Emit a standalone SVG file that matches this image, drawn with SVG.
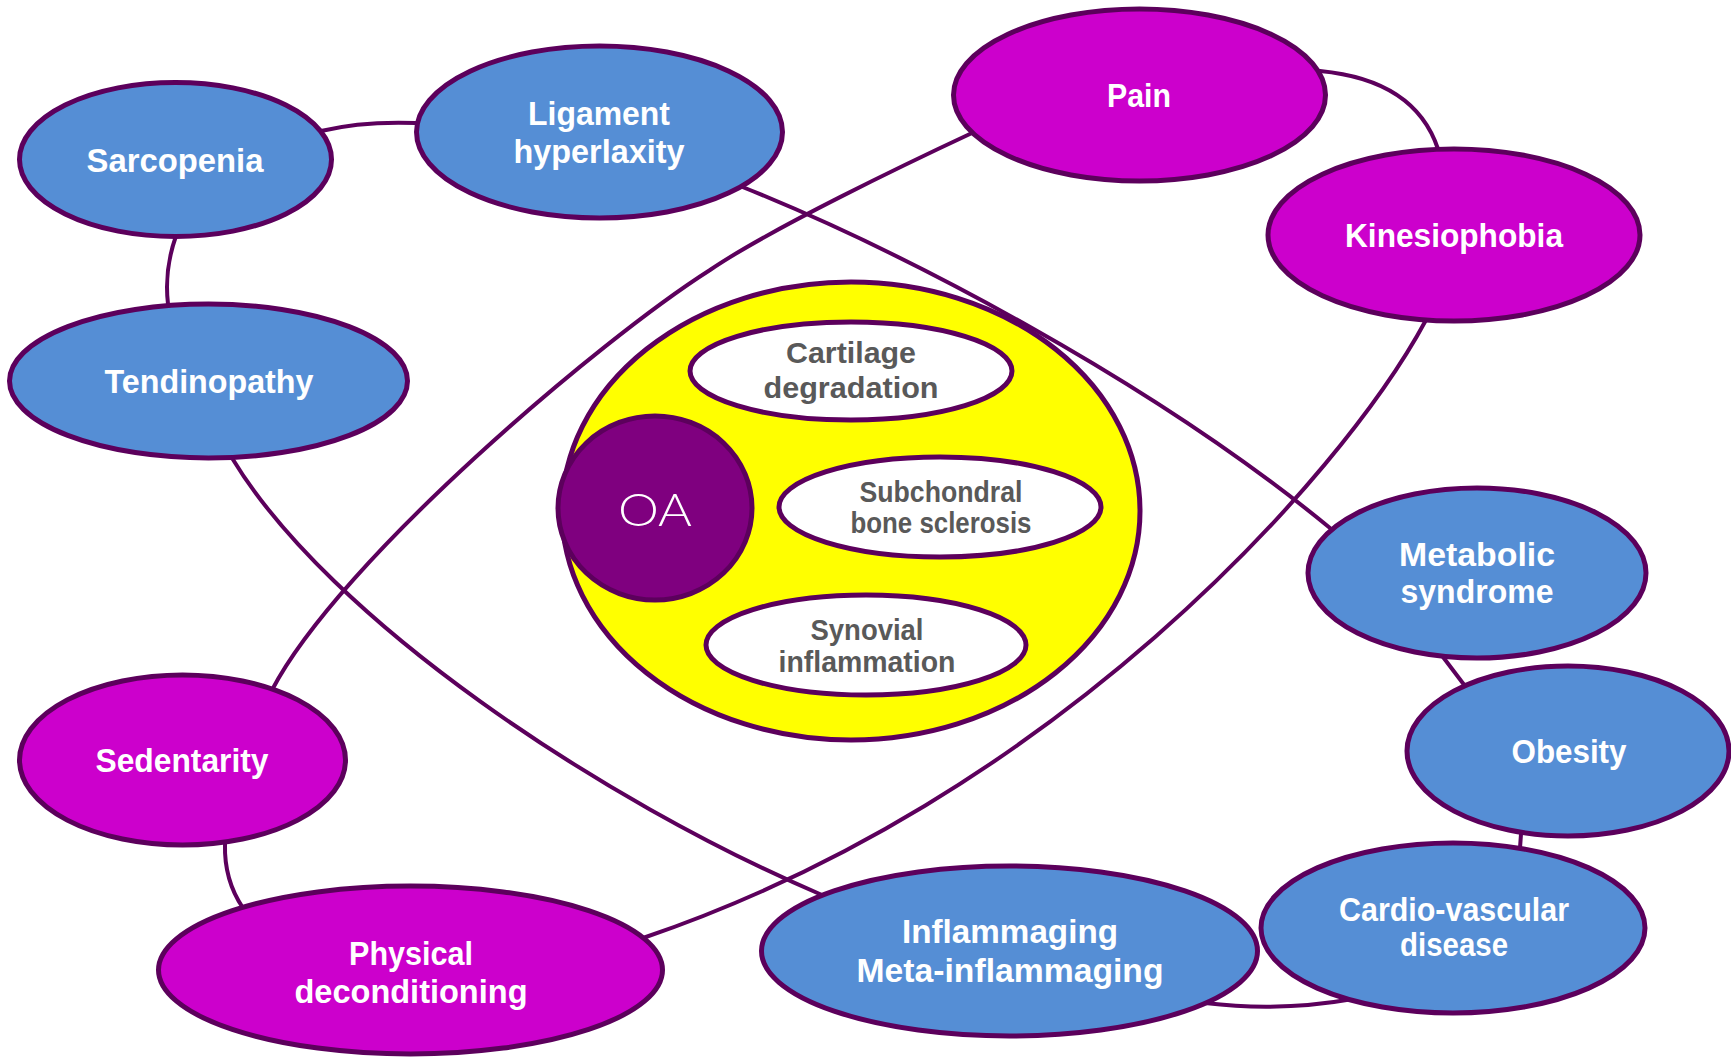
<svg xmlns="http://www.w3.org/2000/svg" width="1731" height="1059" viewBox="0 0 1731 1059">
  <style>
    .edge { fill: none; stroke: #5C005C; stroke-width: 4; stroke-linecap: round; }
    .blue { fill: #558ED5; stroke: #5C005C; stroke-width: 5; }
    .mag { fill: #CC00CC; stroke: #5C005C; stroke-width: 5; }
    .core { fill: #FFFF00; stroke: #5C005C; stroke-width: 5; }
    .sub { fill: #FFFFFF; stroke: #5C005C; stroke-width: 5; }
    .oa { fill: #7F007F; stroke: #5C005C; stroke-width: 5; }
    .lbl { font-family: "Liberation Sans", Arial, sans-serif; font-weight: bold; font-size: 33px; fill: #FFFFFF; text-anchor: middle; }
    .in { font-family: "Liberation Sans", Arial, sans-serif; font-weight: bold; font-size: 30px; fill: #595959; text-anchor: middle; }
    .oat { font-family: Lato, "Liberation Sans", sans-serif; font-weight: 300; font-size: 46px; fill: #FFFFFF; text-anchor: middle; }
  </style>
  <rect width="1731" height="1059" fill="#FFFFFF"/>

  <!-- links between risk factors -->
  <g id="connectors">
    <path class="edge" d="M321,131 Q362,121 416,123"/>
    <path class="edge" d="M176,236 Q164,270 168,304"/>
    <path class="edge" d="M740,186 C900,250 1150,380 1330,528"/>
    <path class="edge" d="M972,133 C912,161 770,229 710,270 C600,340 340,560 272,690"/>
    <path class="edge" d="M1320,71 Q1415,80 1438,149"/>
    <path class="edge" d="M1426,320 C1340,480 1050,800 643,938"/>
    <path class="edge" d="M232,458 C330,620 600,800 822,895"/>
    <path class="edge" d="M1443,657 L1465,686"/>
    <path class="edge" d="M1521,834 L1520,848"/>
    <path class="edge" d="M1205,1003 Q1280,1012 1353,999"/>
    <path class="edge" d="M225,844 Q224,880 243,908"/>
  </g>

  <!-- central OA cluster -->
  <g id="oa-core">
    <ellipse class="core" cx="851" cy="511" rx="289" ry="229"/>
  </g>
  <g id="cartilage">
    <ellipse class="sub" cx="851" cy="371" rx="161" ry="49"/>
    <text class="in" x="851" y="363" textLength="130" lengthAdjust="spacingAndGlyphs">Cartilage</text>
    <text class="in" x="851" y="398" textLength="175" lengthAdjust="spacingAndGlyphs">degradation</text>
  </g>
  <g id="subchondral">
    <ellipse class="sub" cx="940" cy="507" rx="161" ry="50"/>
    <text class="in" x="941" y="502" textLength="163" lengthAdjust="spacingAndGlyphs">Subchondral</text>
    <text class="in" x="941" y="533" textLength="181" lengthAdjust="spacingAndGlyphs">bone sclerosis</text>
  </g>
  <g id="synovial">
    <ellipse class="sub" cx="866" cy="645" rx="160" ry="50"/>
    <text class="in" x="867" y="640" textLength="113" lengthAdjust="spacingAndGlyphs">Synovial</text>
    <text class="in" x="867" y="672" textLength="177" lengthAdjust="spacingAndGlyphs">inflammation</text>
  </g>
  <g id="oa">
    <ellipse class="oa" cx="655" cy="508" rx="97" ry="92"/>
    <text class="oat" x="655" y="526" textLength="74" lengthAdjust="spacingAndGlyphs">OA</text>
  </g>

  <!-- surrounding factors -->
  <g id="sarcopenia">
    <ellipse class="blue" cx="175.5" cy="159.5" rx="156" ry="77"/>
    <text class="lbl" x="175" y="172" textLength="177" lengthAdjust="spacingAndGlyphs">Sarcopenia</text>
  </g>
  <g id="ligament">
    <ellipse class="blue" cx="599.5" cy="132" rx="183" ry="86"/>
    <text class="lbl" x="599" y="125" textLength="142" lengthAdjust="spacingAndGlyphs">Ligament</text>
    <text class="lbl" x="599" y="163" textLength="171" lengthAdjust="spacingAndGlyphs">hyperlaxity</text>
  </g>
  <g id="tendinopathy">
    <ellipse class="blue" cx="208.5" cy="381" rx="199" ry="77"/>
    <text class="lbl" x="209" y="393" textLength="209" lengthAdjust="spacingAndGlyphs">Tendinopathy</text>
  </g>
  <g id="pain">
    <ellipse class="mag" cx="1139.5" cy="95" rx="186" ry="86"/>
    <text class="lbl" x="1139" y="107" textLength="64" lengthAdjust="spacingAndGlyphs">Pain</text>
  </g>
  <g id="kinesiophobia">
    <ellipse class="mag" cx="1454" cy="235" rx="186" ry="86"/>
    <text class="lbl" x="1454" y="247" textLength="218" lengthAdjust="spacingAndGlyphs">Kinesiophobia</text>
  </g>
  <g id="metabolic">
    <ellipse class="blue" cx="1477" cy="573" rx="169" ry="85"/>
    <text class="lbl" x="1477" y="566" textLength="156" lengthAdjust="spacingAndGlyphs">Metabolic</text>
    <text class="lbl" x="1477" y="603" textLength="153" lengthAdjust="spacingAndGlyphs">syndrome</text>
  </g>
  <g id="obesity">
    <ellipse class="blue" cx="1568" cy="751" rx="161" ry="85"/>
    <text class="lbl" x="1569" y="763" textLength="115" lengthAdjust="spacingAndGlyphs">Obesity</text>
  </g>
  <g id="cardiovascular">
    <ellipse class="blue" cx="1453" cy="928" rx="192" ry="85"/>
    <text class="lbl" x="1454" y="921" textLength="230" lengthAdjust="spacingAndGlyphs">Cardio-vascular</text>
    <text class="lbl" x="1454" y="956" textLength="108" lengthAdjust="spacingAndGlyphs">disease</text>
  </g>
  <g id="inflammaging">
    <ellipse class="blue" cx="1009.5" cy="951" rx="248" ry="85"/>
    <text class="lbl" x="1010" y="943" textLength="216" lengthAdjust="spacingAndGlyphs">Inflammaging</text>
    <text class="lbl" x="1010" y="982" textLength="307" lengthAdjust="spacingAndGlyphs">Meta-inflammaging</text>
  </g>
  <g id="sedentarity">
    <ellipse class="mag" cx="182.5" cy="760" rx="163" ry="85"/>
    <text class="lbl" x="182" y="772" textLength="173" lengthAdjust="spacingAndGlyphs">Sedentarity</text>
  </g>
  <g id="deconditioning">
    <ellipse class="mag" cx="410.5" cy="970" rx="252" ry="84"/>
    <text class="lbl" x="411" y="965" textLength="124" lengthAdjust="spacingAndGlyphs">Physical</text>
    <text class="lbl" x="411" y="1003" textLength="233" lengthAdjust="spacingAndGlyphs">deconditioning</text>
  </g>
</svg>
